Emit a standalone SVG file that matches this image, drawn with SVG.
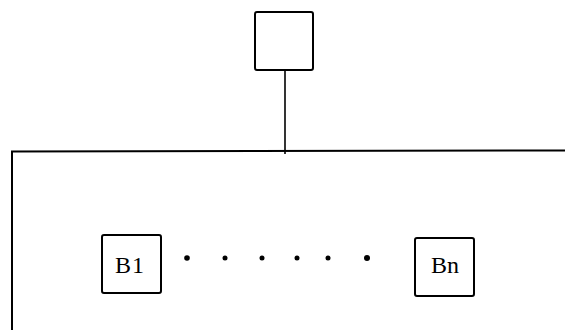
<svg xmlns="http://www.w3.org/2000/svg" width="565" height="330" viewBox="0 0 565 330">
<style>
.box{fill:#fff;stroke:#000;stroke-width:2}
.ln{stroke:#000;stroke-width:1.6;fill:none}
.lbl{font-family:"Liberation Serif","Times New Roman",serif;font-size:24px;fill:#000;text-anchor:middle}
.dot{fill:#000}
</style>
<rect width="565" height="330" fill="#fff"/>
<g id="connectors">
<line class="ln" x1="285" y1="70" x2="285" y2="154"/>
<polyline class="ln" points="12,330 12,151.5 565,150.5" style="stroke-width:2"/>
</g>
<g id="top">
<rect class="box" x="255" y="12" width="58" height="58" rx="2"/>
</g>
<g id="B1">
<rect class="box" x="102" y="235" width="59" height="58" rx="2"/>
<text class="lbl" x="130" y="273" letter-spacing="1">B1</text>
</g>
<g id="dots">
<circle class="dot" cx="187" cy="258" r="2.8"/>
<circle class="dot" cx="225" cy="258" r="2.5"/>
<circle class="dot" cx="262" cy="258" r="2.5"/>
<circle class="dot" cx="297" cy="258" r="2.5"/>
<circle class="dot" cx="328" cy="258" r="2.5"/>
<circle class="dot" cx="367" cy="258" r="3"/>
</g>
<g id="Bn">
<rect class="box" x="415" y="238" width="59" height="58" rx="2"/>
<text class="lbl" x="445" y="273">Bn</text>
</g>
</svg>
